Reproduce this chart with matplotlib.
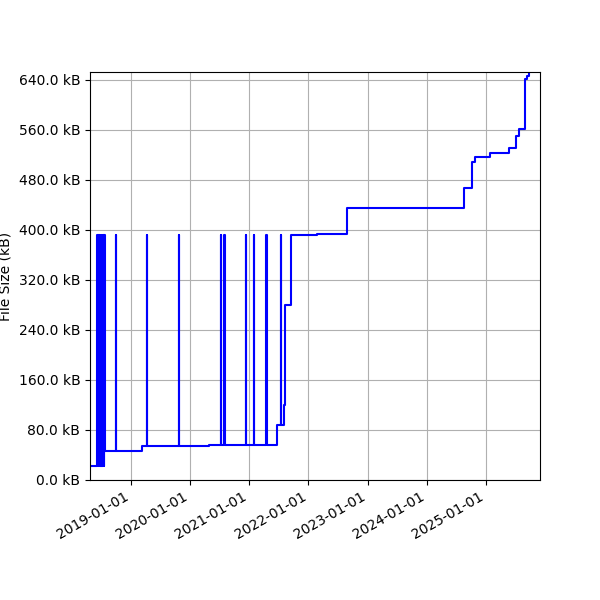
import numpy as np
import pandas as pd
import matplotlib
matplotlib.use("Agg")
import matplotlib.pyplot as plt
import matplotlib.dates as mdates
from matplotlib.ticker import MultipleLocator, FuncFormatter

# commit dates and file size (kB)
dates = [
    "2018-04-22", "2018-06-07", "2018-06-09", "2018-06-13", "2018-06-15",
    "2018-06-19", "2018-06-22", "2018-06-27", "2018-06-30", "2018-07-05",
    "2018-07-08", "2018-07-13", "2018-07-16", "2018-07-20", "2018-07-24",
    "2018-09-27", "2018-09-29", "2019-03-10", "2019-04-09", "2019-04-11",
    "2019-10-21", "2019-10-23", "2020-04-27", "2020-05-20", "2020-07-07",
    "2020-07-09", "2020-07-30", "2020-08-01", "2020-12-12", "2020-12-14",
    "2021-01-27", "2021-01-29", "2021-04-15", "2021-04-17", "2021-06-19",
    "2021-07-13", "2021-07-15", "2021-08-03", "2021-08-10", "2021-09-16",
    "2022-02-21", "2022-08-25", "2024-08-21", "2024-10-10", "2024-10-25",
    "2025-01-26", "2025-05-25", "2025-07-09", "2025-07-28", "2025-08-30",
    "2025-09-12", "2025-09-22",
]
sizes_kb = [
    22, 391, 22, 391, 22,
    391, 22, 391, 22, 391,
    22, 391, 22, 391, 47,
    391, 47, 54, 391, 54,
    391, 54, 55.5, 56.5, 391,
    56.5, 391, 56.5, 391, 56.5,
    391, 56.5, 391, 56.5, 88.5,
    391, 88.5, 120, 280, 391.5,
    392.5, 435, 466, 508, 516,
    523, 531, 549, 561, 641,
    646, 652,
]

x = pd.to_datetime(dates)

fig, ax = plt.subplots(figsize=(6, 6), dpi=100)
ax.plot(x, sizes_kb, color="blue", drawstyle="steps-post")

ax.set_ylabel("File Size (kB)")
ax.yaxis.set_major_locator(MultipleLocator(80))
ax.yaxis.set_major_formatter(FuncFormatter(lambda v, p: f"{v:.1f} kB"))
ax.set_ylim(0, 652)
ax.set_xlim(pd.Timestamp("2018-04-22"), pd.Timestamp("2025-12-02"))

ax.xaxis.set_major_locator(mdates.YearLocator())
ax.xaxis.set_major_formatter(mdates.DateFormatter("%Y-%m-%d"))
ax.grid(True)

fig.autofmt_xdate()
plt.subplots_adjust(left=0.15, right=0.9, top=0.88, bottom=0.2)
plt.savefig("out.png", dpi=100)
